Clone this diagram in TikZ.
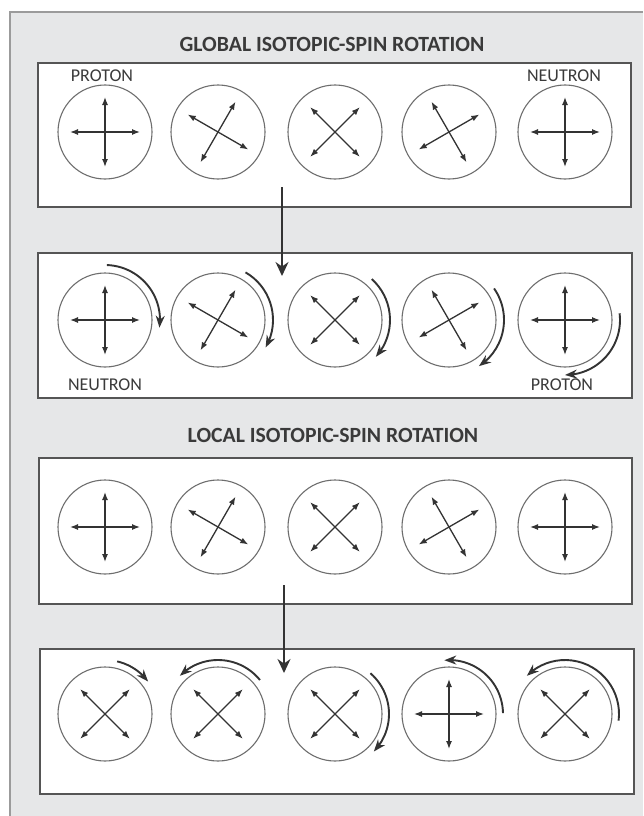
\documentclass[tikz,border=0pt]{standalone}
\usepackage{fontspec}
\setmainfont{Carlito}
\usetikzlibrary{arrows.meta,bending}
\definecolor{panelgrey}{HTML}{E6E7E8}
\definecolor{panelline}{HTML}{9B9B9B}
\definecolor{boxline}{HTML}{555555}
\definecolor{ink}{HTML}{333333}
\definecolor{ringcol}{HTML}{6E6E6E}
\definecolor{txt}{HTML}{3A3A3A}
\newcommand{\spincross}[2]{%
  \draw[crossarr] ([shift={(#2:35)}]#1.center) -- ([shift={(#2+180:35)}]#1.center);
  \draw[crossarr] ([shift={(#2+90:35)}]#1.center) -- ([shift={(#2+270:35)}]#1.center);}
\newcommand{\rotarc}[4]{%
  \draw[rotarr] ([shift={(#2:#4)}]#1.center) arc[start angle=#2, end angle=#3, radius=#4];}
\begin{document}
\begin{tikzpicture}[x=1pt,y=1pt,
  frame/.style={draw=boxline,line width=1.8pt,fill=white,anchor=north west,inner sep=0pt},
  spinring/.style={circle,draw=ringcol,line width=1.1pt,minimum size=94pt,inner sep=0pt},
  crossarr/.style={draw=ink,line width=1.3pt,{Latex[length=8pt,width=6pt]}-{Latex[length=8pt,width=6pt]}},
  rotarr/.style={draw=ink,line width=1.9pt,-{Stealth[length=12pt,width=9pt]}},
  flowarr/.style={draw=ink,line width=1.5pt,-{Stealth[length=14pt,width=13pt]}},
  lbl/.style={text=txt,font=\fontsize{18}{20}\selectfont,inner sep=0pt},
  ttl/.style={text=txt,font=\bfseries\fontsize{21.7}{24}\selectfont,inner sep=0pt}]
\useasboundingbox (0,0) rectangle (643,-816);
\fill[panelgrey] (10,-12) rectangle (643,-816);
\draw[panelline,line width=1.5pt] (10,-816) -- (10,-12) -- (643,-12);

% titles
\node[ttl] (t1) at (332,-44) {GLOBAL ISOTOPIC-SPIN ROTATION};
\node[ttl] (t2) at (333,-435) {LOCAL ISOTOPIC-SPIN ROTATION};

% boxes
\node[frame,minimum width=593pt,minimum height=144pt] (box1) at (37,-62) {};
\node[frame,minimum width=594pt,minimum height=145pt] (box2) at (37,-252) {};
\node[frame,minimum width=593pt,minimum height=146pt] (box3) at (38,-457) {};
\node[frame,minimum width=594pt,minimum height=145pt] (box4) at (39,-648) {};

% circles
\foreach \r/\y in {1/132,2/320,3/527,4/714}{
  \foreach \i/\x in {1/105,2/218,3/335,4/449,5/565}{
    \node[spinring] (c\r\i) at (\x,-\y) {};
  }
}

% crosses
\foreach \r in {1,2,3}{
  \spincross{c\r1}{0}
  \spincross{c\r2}{-30}
  \spincross{c\r3}{45}
  \spincross{c\r4}{30}
  \spincross{c\r5}{0}
}
\spincross{c41}{45}
\spincross{c42}{45}
\spincross{c43}{45}
\spincross{c44}{0}
\spincross{c45}{45}

% labels
\node[lbl] (lp1) at (102,-76) {PROTON};
\node[lbl] (ln1) at (564,-76) {NEUTRON};
\node[lbl] (ln2) at (105,-385) {NEUTRON};
\node[lbl] (lp2) at (562,-385) {PROTON};

% rotation arcs, global
\rotarc{c21}{88}{-8}{55}
\rotarc{c22}{60}{-30}{55}
\rotarc{c23}{48}{-42}{55}
\rotarc{c24}{35}{-57}{55}
\rotarc{c25}{7}{-90}{55}

% rotation arcs, local
\rotarc{c41}{77}{37}{54}
\rotarc{c42}{39}{135}{54}
\rotarc{c43}{49}{-44}{54}
\rotarc{c44}{1}{95}{54}
\rotarc{c45}{-7}{135}{54}

% flow arrows
\coordinate (f1a) at (282,-187);
\coordinate (f1b) at (282,-276);
\coordinate (f2a) at (284,-585);
\coordinate (f2b) at (284,-673);
\draw[flowarr] (f1a) -- (f1b);
\draw[flowarr] (f2a) -- (f2b);
\end{tikzpicture}
\end{document}
